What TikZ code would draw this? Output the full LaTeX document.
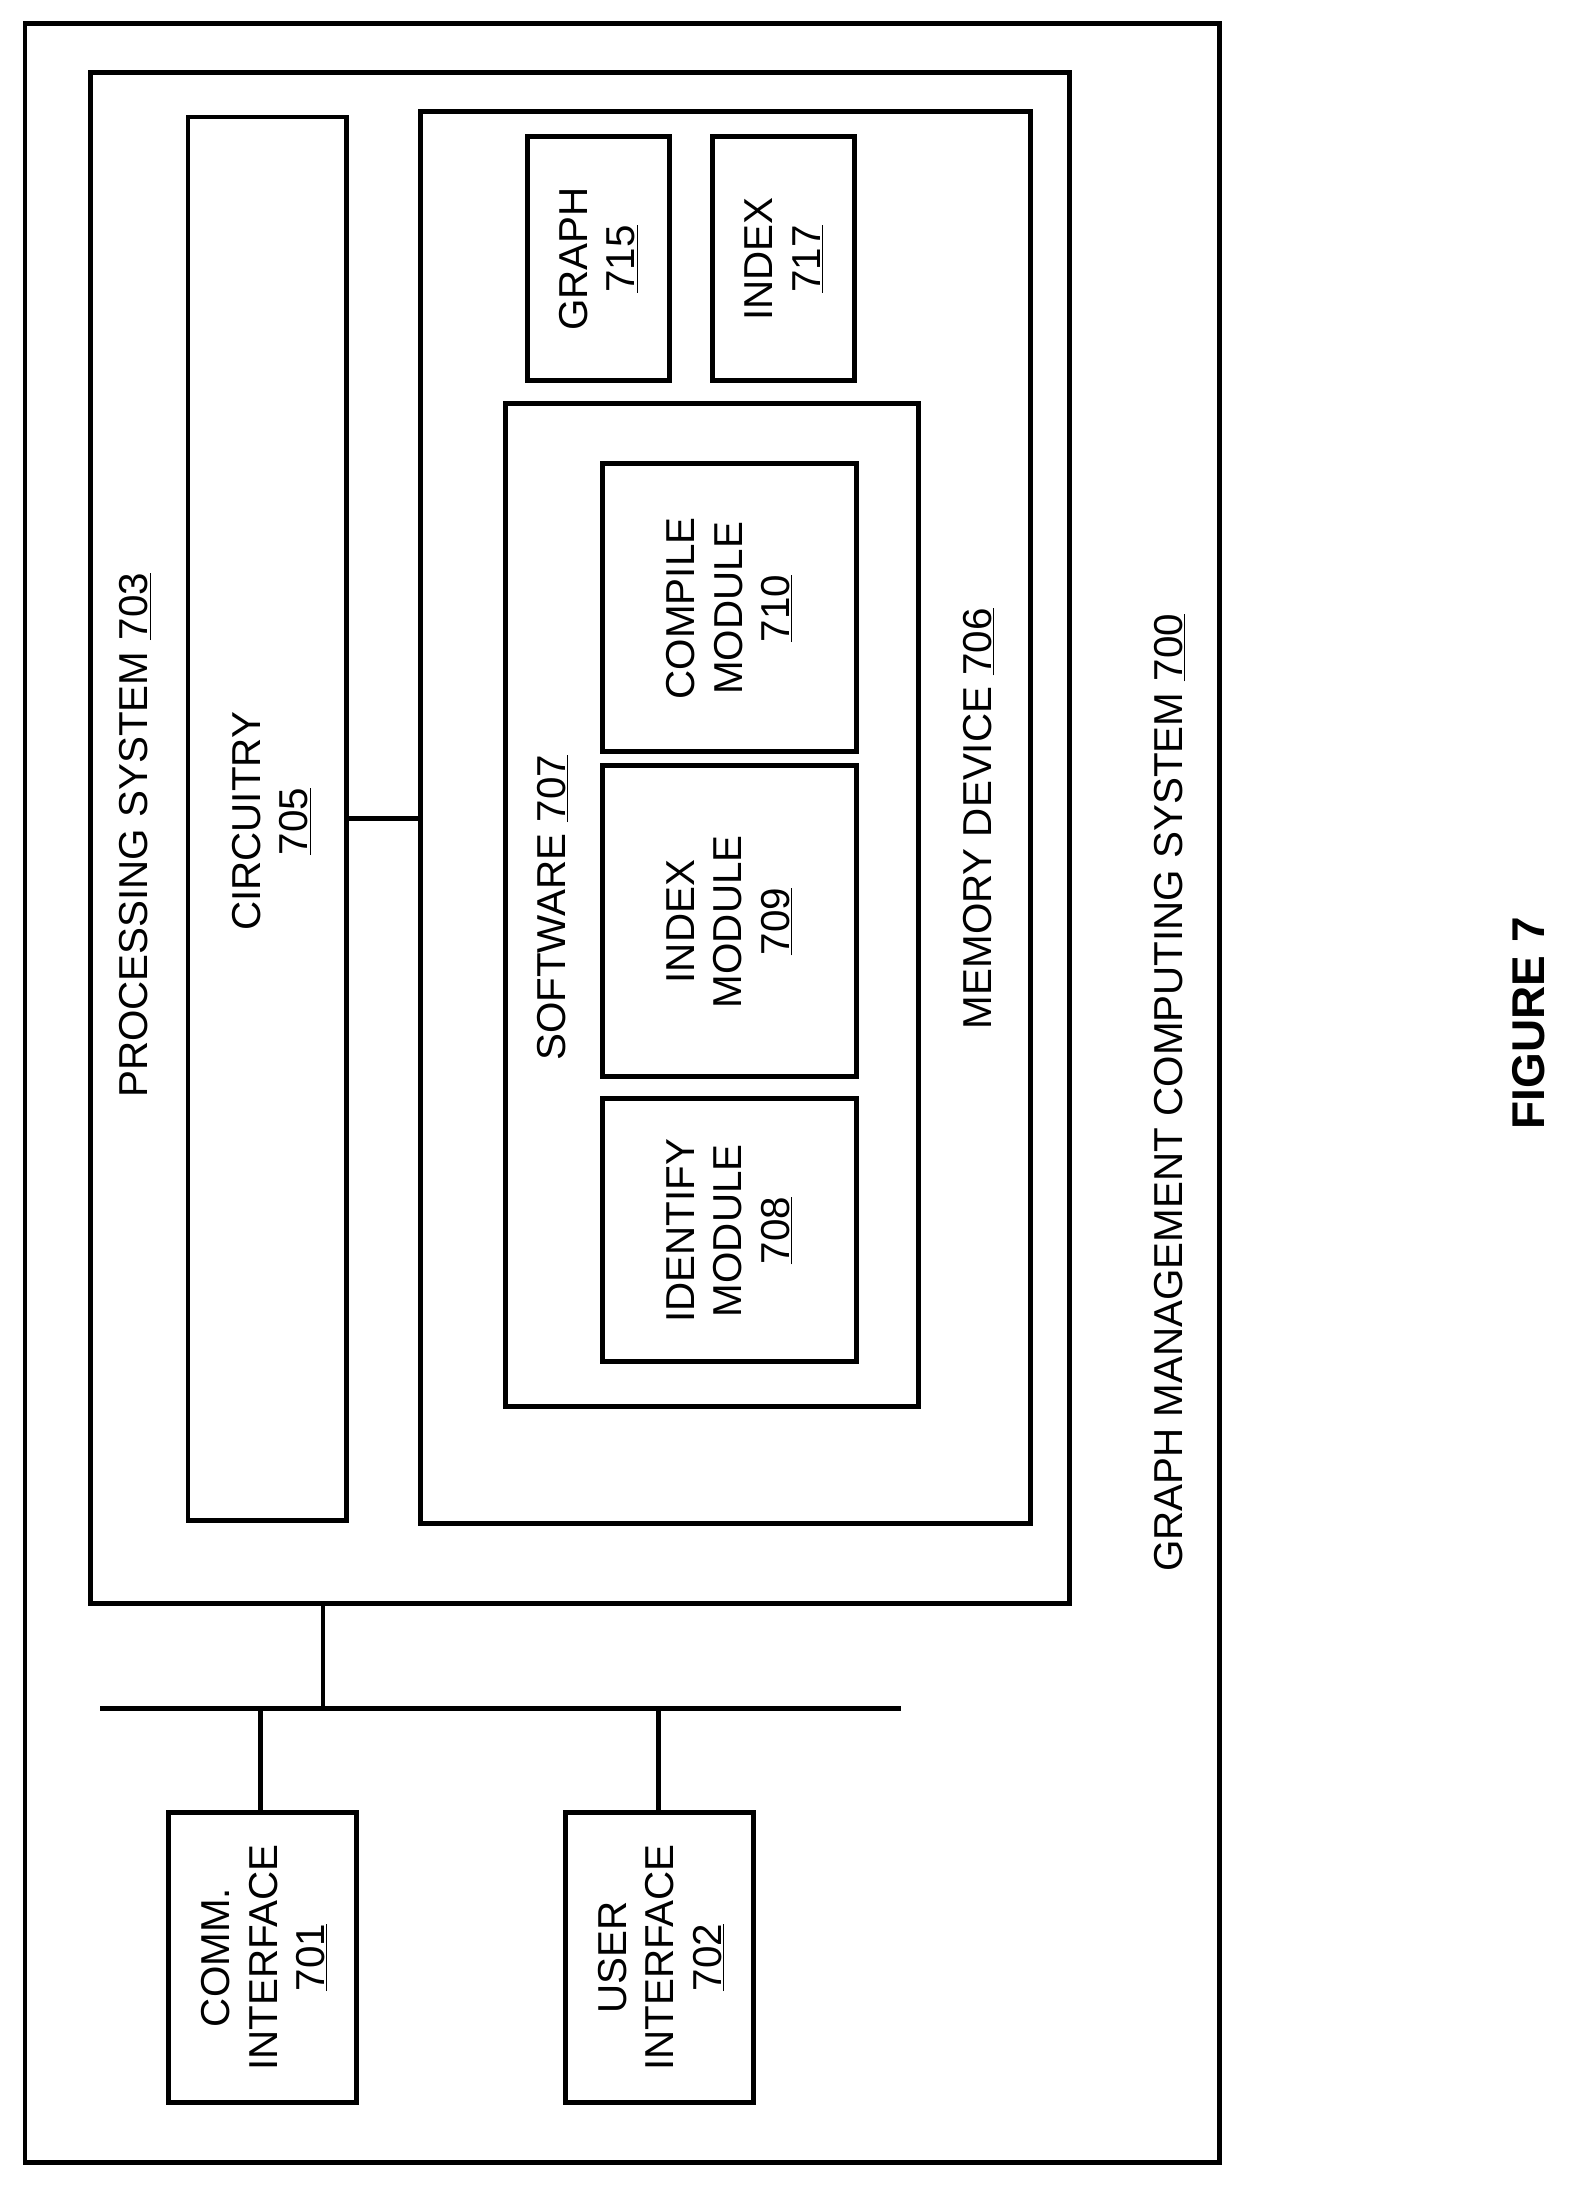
\documentclass[tikz,border=0pt]{standalone}
\usepackage{fontspec}
\setmainfont{Liberation Sans}
\begin{document}
\begin{tikzpicture}[x=1pt,y=-1pt,
  box/.style={draw,line width=3.5pt},
  lbl/.style={rotate=90,align=center,font=\fontsize{29}{34}\selectfont,inner sep=0pt},
  ln/.style={line width=3.5pt}]
\useasboundingbox (0,0) rectangle (1132,1573);
\draw[box] (18,17) rectangle (876,1553);
\draw[box] (65,52) rectangle (768,1152);
\node[box,minimum width=114pt,minimum height=1008pt,inner sep=0pt] (circ) at (192,588) {};
\draw[box] (302,80) rectangle (740,1094);
\coordinate (memL) at (302,588);
\draw[box] (379,98) rectangle (481,273);
\draw[box] (512,98) rectangle (614,273);
\draw[box] (363,290) rectangle (660,1010);
\draw[box] (433,333) rectangle (615,540);
\draw[box] (433,550) rectangle (615,773);
\draw[box] (433,789) rectangle (615,978);
\draw[box] (121,1302) rectangle (256,1510);
\draw[box] (406,1302) rectangle (541,1510);
\coordinate (psB) at (232,1152);
\coordinate (busA) at (72,1227);
\coordinate (busB) at (647,1227);
\coordinate (b1) at (232,1227);
\coordinate (b2) at (187,1227);
\coordinate (b3) at (473,1227);
\coordinate (c1) at (187,1302);
\coordinate (c2) at (473,1302);
\draw[ln] (circ.east|-memL) -- (memL);
\draw[ln] (busA) -- (busB);
\draw[ln] (psB) -- (b1);
\draw[ln] (b2) -- (c1);
\draw[ln] (b3) -- (c2);
\node[lbl] (t1) at (97,600) {PROCESSING SYSTEM \underline{703}};
\node[lbl] (t2) at (195,590) {CIRCUITRY\\\underline{705}};
\node[lbl] (t3) at (397,652) {SOFTWARE \underline{707}};
\node[lbl] (t4) at (703,588) {MEMORY DEVICE \underline{706}};
\node[lbl] (t5) at (840,785) {GRAPH MANAGEMENT COMPUTING SYSTEM \underline{700}};
\node[lbl] (t6) at (430,186) {GRAPH\\\underline{715}};
\node[lbl] (t7) at (563,186) {INDEX\\\underline{717}};
\node[lbl] (t8) at (524,437) {COMPILE\\MODULE\\\underline{710}};
\node[lbl] (t9) at (524,662) {INDEX\\MODULE\\\underline{709}};
\node[lbl] (t10) at (524,884) {IDENTIFY\\MODULE\\\underline{708}};
\node[lbl] (t11) at (190,1406) {COMM.\\INTERFACE\\\underline{701}};
\node[lbl] (t12) at (475,1406) {USER\\INTERFACE\\\underline{702}};
\node[lbl,font=\bfseries\fontsize{33}{38}\selectfont] (t13) at (1098,735) {FIGURE 7};
\end{tikzpicture}
\end{document}
